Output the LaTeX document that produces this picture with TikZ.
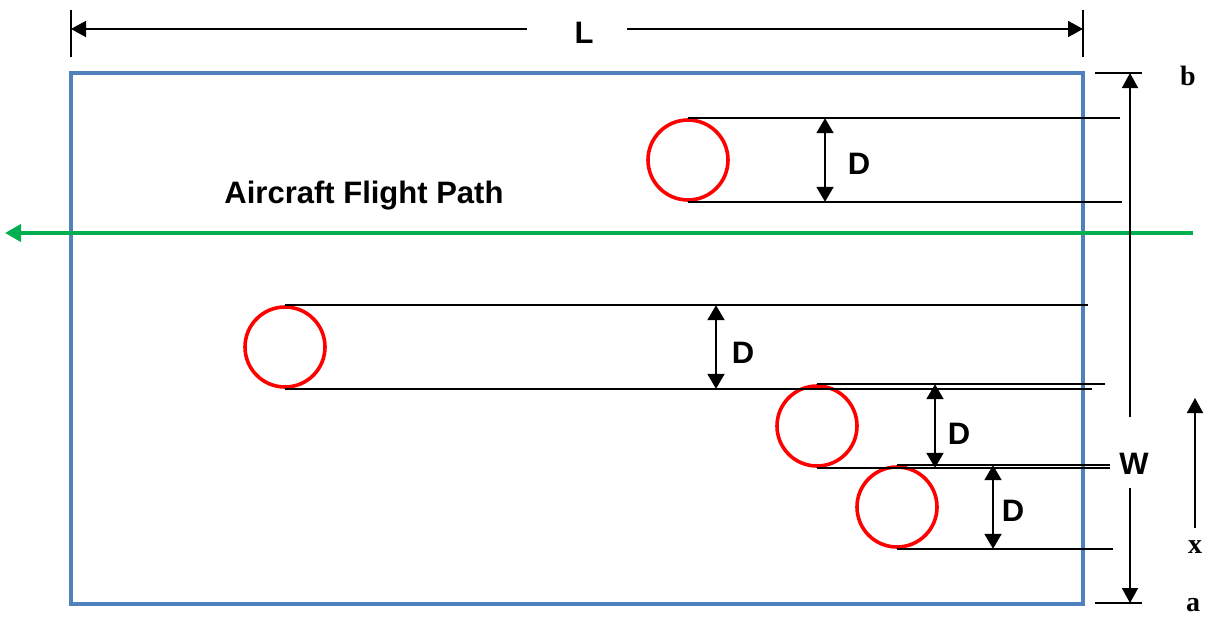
\documentclass[tikz,border=0pt]{standalone}
\usepackage{fontspec}
\setmainfont{Liberation Serif}
\setsansfont{Liberation Sans}
\usetikzlibrary{arrows.meta}

\definecolor{stripblue}{RGB}{79,129,189}
\definecolor{flightgreen}{RGB}{0,176,80}

\tikzset{
  hole/.style={circle,draw=red,line width=3.6pt,minimum size=80pt,inner sep=0pt},
  track/.style={line width=1.5pt},
  dimline/.style={line width=2pt,{Triangle[length=15pt,width=17pt]}-{Triangle[length=15pt,width=17pt]}},
  halfdim/.style={line width=1.8pt,-{Triangle[length=15pt,width=16pt]}},
  lbl/.style={font=\sffamily\bfseries\fontsize{31}{36}\selectfont,inner sep=0pt},
  side/.style={font=\rmfamily\bfseries\fontsize{28}{32}\selectfont,inner sep=0pt}
}

\begin{document}
\begin{tikzpicture}[x=1pt,y=-1pt]
\useasboundingbox (0,0) rectangle (1207,618);

% strip
\draw[stripblue,line width=4pt] (71,73) rectangle (1083,604);

% flight path
\coordinate (F0) at (1193,233);
\coordinate (F1) at (5,233);
\draw[flightgreen,line width=4pt,-{Triangle[length=16pt,width=17pt]}] (F0) -- (F1);
\node[lbl] (FP) at (364,196) {Aircraft Flight Path};

% holes
\node[hole] (H1) at (688,160) {};
\node[hole] (H2) at (285,347) {};
\node[hole] (H3) at (817,426) {};
\node[hole] (H4) at (897,507) {};

% ends of the tracks
\coordinate (E1a) at (1120,0);  \coordinate (E1b) at (1122,0);
\coordinate (E2a) at (1088,0);  \coordinate (E2b) at (1092,0);
\coordinate (E3a) at (1105,0);  \coordinate (E3b) at (1110,0);
\coordinate (E4a) at (1110,0);  \coordinate (E4b) at (1113,0);

\draw[track] (H1.north) -- (H1.north -| E1a)
             (H1.south) -- (H1.south -| E1b)
             (H2.north) -- (H2.north -| E2a)
             (H2.south) -- (H2.south -| E2b)
             (H3.north) -- (H3.north -| E3a)
             (H3.south) -- (H3.south -| E3b)
             (H4.north) -- (H4.north -| E4a)
             (H4.south) -- (H4.south -| E4b);

% diameters
\coordinate (A1) at (825,0);
\coordinate (A2) at (716,0);
\coordinate (A3) at (935,0);
\coordinate (A4) at (993,0);
\draw[dimline] (H1.north -| A1) -- (H1.south -| A1);
\draw[dimline] (H2.north -| A2) -- (H2.south -| A2);
\draw[dimline] (H3.north -| A3) -- (H3.south -| A3);
\draw[dimline] (H4.north -| A4) -- (H4.south -| A4);
\node[lbl] (D1) at (859,164) {D};
\node[lbl] (D2) at (743,353) {D};
\node[lbl] (D3) at (959,434) {D};
\node[lbl] (D4) at (1013,511) {D};

% length L
\draw[line width=2pt] (71,10) -- (71,57)
                      (1083,10) -- (1083,57);
\coordinate (L0) at (71,29);
\coordinate (L1) at (1083,29);
\coordinate (Lg0) at (527,29);
\coordinate (Lg1) at (627,29);
\node[lbl] (Ltxt) at (584,33) {L};
\draw[halfdim] (Lg0) -- (L0);
\draw[halfdim] (Lg1) -- (L1);

% width W
\draw[line width=2pt] (1095,73) -- (1142,73)
                      (1095,603) -- (1142,603);
\coordinate (W0) at (1130,73);
\coordinate (W1) at (1130,603);
\coordinate (Wg0) at (1130,417);
\coordinate (Wg1) at (1130,488);
\node[lbl] (Wtxt) at (1134,464) {W};
\draw[halfdim] (Wg0) -- (W0);
\draw[halfdim] (Wg1) -- (W1);

% x axis
\node[side] (b) at (1188,76) {b};
\node[side] (x) at (1195,547) {x};
\node[side] (a) at (1193,605) {a};
\coordinate (X0) at (1195,528);
\coordinate (X1) at (1195,398);
\draw[halfdim] (X0) -- (X1);

\end{tikzpicture}
\end{document}
